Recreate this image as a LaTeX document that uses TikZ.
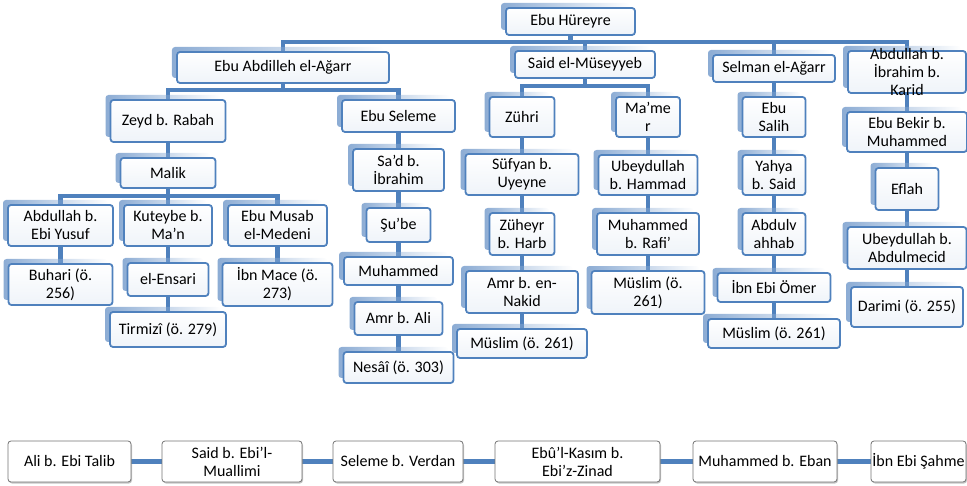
\documentclass[tikz,border=0pt]{standalone}
\usepackage{fontspec}
\setmainfont{Carlito}
\usetikzlibrary{backgrounds,shadows,fadings}
\definecolor{acc}{RGB}{79,129,189}
\definecolor{shad}{RGB}{140,172,212}
\tikzfading[name=fadeR, left color=transparent!0, right color=transparent!100]
\tikzset{
  box/.style={draw=acc, line width=1.8pt, rounded corners=3pt, top color=white, bottom color=acc!9,
    align=center, inner sep=0pt, font=\fontsize{16}{18}\selectfont,
    general shadow={fill=shad, shadow xshift=-5pt, shadow yshift=5pt, path fading=fadeR}},
  gbox/.style={draw=black!55, line width=0.8pt, rounded corners=3pt, fill=white,
    align=center, inner sep=0pt, font=\fontsize{16}{18}\selectfont,
    drop shadow={shadow xshift=1pt, shadow yshift=-1.5pt, fill=black!45, opacity=0.5}},
  conn/.style={draw=acc, line width=4.5pt},
}
\begin{document}
\begin{tikzpicture}[x=1pt,y=-1pt]
\useasboundingbox (0,0) rectangle (967,486);
% level 0-1
\node[box, minimum width=129, minimum height=27] (hur) at (570.5,21.5) {Ebu Hüreyre};
\node[box, minimum width=212, minimum height=31] (abd) at (283,67.5) {Ebu Abdilleh el-Ağarr};
\node[box, minimum width=140, minimum height=27] (said) at (585,64.5) {Said el-Müseyyeb};
\node[box, minimum width=122, minimum height=27] (selman) at (774,68.5) {Selman el-Ağarr};
\node[box, minimum width=118, minimum height=42] (abdib) at (907,72) {\parbox[c][30pt][c]{112pt}{\centering Abdullah b.\\İbrahim b.\\Karid}};
% Abdilleh branch
\node[box, minimum width=115, minimum height=42] (zeyd) at (168,121) {Zeyd b. Rabah};
\node[box, minimum width=113, minimum height=32] (ebusel) at (398.5,116) {Ebu Seleme};
\node[box, minimum width=95, minimum height=30] (malik) at (168,173) {Malik};
\node[box, minimum width=105, minimum height=41] (abyus) at (60.5,225.5) {Abdullah b.\\Ebi Yusuf};
\node[box, minimum width=88, minimum height=41] (kut) at (168,225.5) {Kuteybe b.\\Ma'n};
\node[box, minimum width=99, minimum height=41] (ebumus) at (277.5,225.5) {Ebu Musab\\el-Medeni};
\node[box, minimum width=104, minimum height=41] (buhari) at (60.5,284.5) {Buhari (ö.\\256)};
\node[box, minimum width=81, minimum height=33] (ensari) at (168,279.5) {el-Ensari};
\node[box, minimum width=110, minimum height=43] (ibnmace) at (277.5,284.5) {İbn Mace (ö.\\273)};
\node[box, minimum width=116, minimum height=35] (tirmizi) at (168,329.5) {Tirmizî (ö. 279)};
\node[box, minimum width=91, minimum height=42] (sad) at (398.5,170) {Sa'd b.\\İbrahim};
\node[box, minimum width=64, minimum height=34] (shube) at (398.5,225) {Şu'be};
\node[box, minimum width=109, minimum height=28] (muh1) at (398.5,271) {Muhammed};
\node[box, minimum width=88, minimum height=33] (amrali) at (398.5,318.5) {Amr b. Ali};
\node[box, minimum width=110, minimum height=31] (nesai) at (398.5,367.5) {Nesâî (ö. 303)};
% Said branch
\node[box, minimum width=65, minimum height=40] (zuhri) at (522,117) {Zühri};
\node[box, minimum width=64, minimum height=40] (mamer) at (648,117) {Ma'me\\r};
\node[box, minimum width=113, minimum height=41] (sufyan) at (522,174.5) {Süfyan b.\\Uyeyne};
\node[box, minimum width=65, minimum height=42] (zuheyr) at (522,234) {Züheyr\\b. Harb};
\node[box, minimum width=112, minimum height=42] (amrnakid) at (522,292) {Amr b. en-\\Nakid};
\node[box, minimum width=130, minimum height=29] (muslimA) at (522,343.5) {Müslim (ö. 261)};
\node[box, minimum width=99, minimum height=40] (ubeyham) at (648,175) {Ubeydullah\\b. Hammad};
\node[box, minimum width=102, minimum height=42] (muhrafi) at (648,234) {Muhammed\\b. Rafi'};
\node[box, minimum width=113, minimum height=43] (muslimB) at (648,292.5) {Müslim (ö.\\261)};
% Selman branch
\node[box, minimum width=63, minimum height=40] (ebusalih) at (774,117) {Ebu\\Salih};
\node[box, minimum width=63, minimum height=40] (yahya) at (774,175) {Yahya\\b. Said};
\node[box, minimum width=63, minimum height=42] (abdulv) at (774,234) {Abdulv\\ahhab};
\node[box, minimum width=113, minimum height=29] (ibnomer) at (774,287.5) {İbn Ebi Ömer};
\node[box, minimum width=132, minimum height=29] (muslimC) at (774,333.5) {Müslim (ö. 261)};
% Abdullah b. Ibrahim branch
\node[box, minimum width=120, minimum height=40] (ebubekir) at (907,132) {Ebu Bekir b.\\Muhammed};
\node[box, minimum width=63, minimum height=42] (eflah) at (907,189) {Eflah};
\node[box, minimum width=119, minimum height=42] (ubeyabd) at (907,248) {Ubeydullah b.\\Abdulmecid};
\node[box, minimum width=112, minimum height=40] (darimi) at (907,307) {Darimi (ö. 255)};
% bottom chain
\node[gbox, minimum width=123, minimum height=41] (ali) at (69.5,461.5) {Ali b. Ebi Talib};
\node[gbox, minimum width=140, minimum height=41] (saidebi) at (232,461.5) {Said b. Ebi'l-\\Muallimi};
\node[gbox, minimum width=130, minimum height=41] (seleme) at (398,461.5) {Seleme b. Verdan};
\node[gbox, minimum width=165, minimum height=41] (ebulkasim) at (577.5,461.5) {Ebû'l-Kasım b.\\Ebi'z-Zinad};
\node[gbox, minimum width=144, minimum height=41] (muheban) at (765,461.5) {Muhammed b. Eban};
\node[gbox, minimum width=95, minimum height=41] (ibnsahme) at (918.5,461.5) {İbn Ebi Şahme};
\begin{scope}[on background layer]
  \draw[conn] (hur.south) -- ++(0,6) -| (abd.north);
  \draw[conn] (hur.south) -- ++(0,6) -| (said.north);
  \draw[conn] (hur.south) -- ++(0,6) -| (selman.north);
  \draw[conn] (hur.south) -- ++(0,6) -| (abdib.north);
  \draw[conn] (abd.south) -- ++(0,6) -| (zeyd.north);
  \draw[conn] (abd.south) -- ++(0,6) -| (ebusel.north);
  \draw[conn] (zeyd) -- (malik);
  \draw[conn] (malik.south) -- ++(0,7) -| (abyus.north);
  \draw[conn] (malik.south) -- ++(0,7) -| (kut.north);
  \draw[conn] (malik.south) -- ++(0,7) -| (ebumus.north);
  \draw[conn] (abyus) -- (buhari);
  \draw[conn] (kut) -- (ensari);
  \draw[conn] (ensari) -- (tirmizi);
  \draw[conn] (ebumus) -- (ibnmace);
  \draw[conn] (ebusel) -- (sad);
  \draw[conn] (sad) -- (shube);
  \draw[conn] (shube) -- (muh1);
  \draw[conn] (muh1) -- (amrali);
  \draw[conn] (amrali) -- (nesai);
  \draw[conn] (said.south) -- ++(0,7) -| (zuhri.north);
  \draw[conn] (said.south) -- ++(0,7) -| (mamer.north);
  \draw[conn] (zuhri) -- (sufyan);
  \draw[conn] (sufyan) -- (zuheyr);
  \draw[conn] (zuheyr) -- (amrnakid);
  \draw[conn] (amrnakid) -- (muslimA);
  \draw[conn] (mamer) -- (ubeyham);
  \draw[conn] (ubeyham) -- (muhrafi);
  \draw[conn] (muhrafi) -- (muslimB);
  \draw[conn] (selman) -- (ebusalih);
  \draw[conn] (ebusalih) -- (yahya);
  \draw[conn] (yahya) -- (abdulv);
  \draw[conn] (abdulv) -- (ibnomer);
  \draw[conn] (ibnomer) -- (muslimC);
  \draw[conn] (abdib) -- (ebubekir);
  \draw[conn] (ebubekir) -- (eflah);
  \draw[conn] (eflah) -- (ubeyabd);
  \draw[conn] (ubeyabd) -- (darimi);
  \draw[conn] (ali) -- (saidebi);
  \draw[conn] (saidebi) -- (seleme);
  \draw[conn] (seleme) -- (ebulkasim);
  \draw[conn] (ebulkasim) -- (muheban);
  \draw[conn] (muheban) -- (ibnsahme);
\end{scope}
\end{tikzpicture}
\end{document}
